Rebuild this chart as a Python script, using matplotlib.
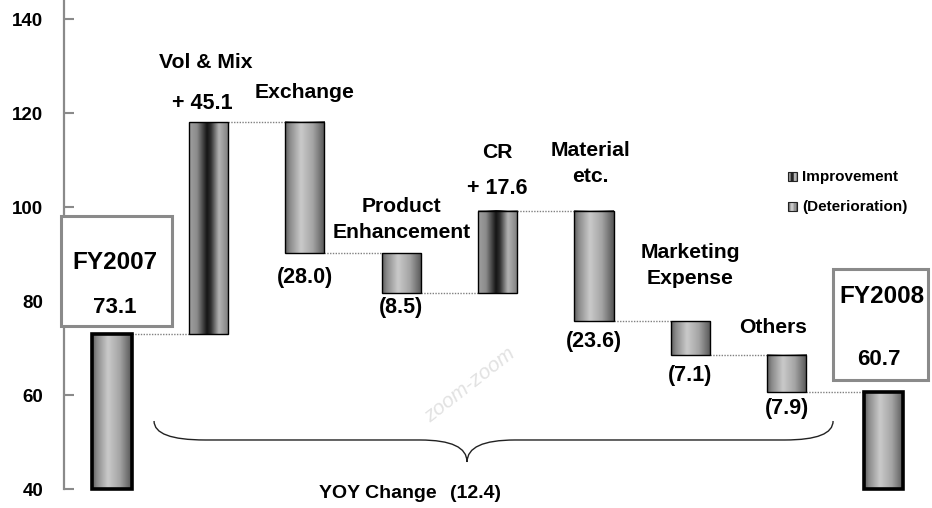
import matplotlib
matplotlib.use("Agg")
import matplotlib.pyplot as plt
import numpy as np
from matplotlib.patches import Rectangle, PathPatch
from matplotlib.path import Path
from matplotlib.transforms import offset_copy
from matplotlib.colors import LinearSegmentedColormap

# ---------------- data ----------------
categories = ["FY2007", "Vol & Mix", "Exchange", "Product\nEnhancement", "CR",
              "Material\netc.", "Marketing\nExpense", "Others", "FY2008"]
changes = [73.1, 45.1, -28.0, -8.5, 17.6, -23.6, -7.1, -7.9, 60.7]
kinds = ["total", "up", "down", "down", "up", "down", "down", "down", "total"]
value_labels = ["73.1", "+ 45.1", "(28.0)", "(8.5)", "+ 17.6", "(23.6)", "(7.1)", "(7.9)", "60.7"]
yoy_label = "YOY Change"
yoy_value = "(12.4)"
legend_labels = ["Improvement", "(Deterioration)"]
y_ticks = [40, 60, 80, 100, 120, 140]
baseline = 40

# ---------------- style / layout ----------------
FONT = "Liberation Sans"
plt.rcParams["font.family"] = [FONT, "DejaVu Sans"]
plt.rcParams["font.weight"] = "bold"

W, H, DPI = 932, 508, 100
fig = plt.figure(figsize=(W / DPI, H / DPI), dpi=DPI)
ax = fig.add_axes([64 / W, 0, 1 - 64 / W, 1])
XLIM = (-0.498, 8.506)
YLIM = (36.02, 144.1)

bar_w = 0.405
cm_up = LinearSegmentedColormap.from_list(
    "up", [(0, "#a0a0a0"), (0.2, "#8c8c8c"), (0.45, "#141414"), (0.55, "#303030"),
           (0.75, "#b4b4b4"), (1.0, "#7c7c7c")])
cm_down = LinearSegmentedColormap.from_list(
    "down", [(0, "#5c5c5c"), (0.12, "#8a8a8a"), (0.4, "#cacaca"), (0.7, "#a4a4a4"),
             (1.0, "#555555")])

# compute waterfall spans
bottoms, tops, levels = [], [], []
level = 0.0
for v, k in zip(changes, kinds):
    if k == "total":
        b, t = baseline, v
        level = v
    elif k == "up":
        b, t = level, level + v
        level = t
    else:
        b, t = level + v, level
        level = b
    bottoms.append(b)
    tops.append(t)
    levels.append(level)

x = np.arange(len(categories))
grad = np.linspace(0, 1, 256)[None, :]
for i in range(len(categories)):
    x0, x1 = x[i] - bar_w / 2, x[i] + bar_w / 2
    cmap = cm_up if kinds[i] == "up" else cm_down
    ax.imshow(grad, extent=[x0, x1, bottoms[i], tops[i]], aspect="auto",
              cmap=cmap, interpolation="bicubic", zorder=2)
    lw = 2.6 if kinds[i] == "total" else 1.0
    ax.add_patch(Rectangle((x0, bottoms[i]), bar_w, tops[i] - bottoms[i],
                           fill=False, edgecolor="black", lw=lw, zorder=3))

# dotted connectors
for i in range(len(categories) - 1):
    ax.plot([x[i] + bar_w / 2, x[i + 1] - bar_w / 2], [levels[i], levels[i]],
            color="#808080", lw=1.0, ls=(0, (1, 1)), zorder=1)

# labels: offsets in pixels (dx, dy from bar top for name; dy from end for value)
name_off = [None, (-3, 59), (0, 29), (0, 34), (0, 58), (-4, 47), (0, 56), (-14, 27), None]
val_off = [None, (-6, 18), (0, -24), (0, -14), (0, 22), (0, -20), (0, -21), (0, -17), None]
NAME_FS = 15.2
VAL_FS = 15.5
for i in range(len(categories)):
    if kinds[i] == "total":
        continue
    dx, dy = name_off[i]
    tr = offset_copy(ax.transData, fig=fig, x=dx, y=dy, units="dots")
    ax.text(x[i], tops[i], categories[i], transform=tr, ha="center", va="center",
            fontsize=NAME_FS, fontweight="bold", linespacing=1.5, zorder=5)
    dx, dy = val_off[i]
    yref = tops[i] if kinds[i] == "up" else bottoms[i]
    tr = offset_copy(ax.transData, fig=fig, x=dx, y=dy, units="dots")
    ax.text(x[i], yref, value_labels[i], transform=tr, ha="center", va="center",
            fontsize=VAL_FS, fontweight="bold", zorder=5)

# total boxes
ax.add_patch(Rectangle((-0.529, 74.74), 1.151, 23.41, fill=True, facecolor="white",
                       edgecolor="#8a8a8a", lw=2.2, zorder=4, clip_on=False))
ax.text(0.03, 88.17, categories[0], ha="center", va="center", fontsize=17.5,
        fontweight="bold", zorder=5)
ax.text(0.03, 78.6, value_labels[0], ha="center", va="center", fontsize=16,
        fontweight="bold", zorder=5)
ax.add_patch(Rectangle((7.475, 63.3), 0.99, 23.6, fill=True, facecolor="white",
                       edgecolor="#8a8a8a", lw=2.2, zorder=4, clip_on=False))
ax.text(7.99, 80.96, categories[8], ha="center", va="center", fontsize=17.5,
        fontweight="bold", zorder=5)
ax.text(7.96, 67.55, value_labels[8], ha="center", va="center", fontsize=16,
        fontweight="bold", zorder=5)

# brace
yh, ye, yt = 50.49, 54.53, 45.81
verts = [(0.436, ye), (0.436, yh), (0.965, yh),
         (3.195, yh),
         (3.683, yh), (3.683, yt),
         (3.683, yh), (4.18, yh),
         (6.98, yh),
         (7.48, yh), (7.48, ye)]
codes = [Path.MOVETO, Path.CURVE3, Path.CURVE3,
         Path.LINETO,
         Path.CURVE3, Path.CURVE3,
         Path.CURVE3, Path.CURVE3,
         Path.LINETO,
         Path.CURVE3, Path.CURVE3]
ax.add_patch(PathPatch(Path(verts, codes), fill=False, edgecolor="#222222", lw=1.0, zorder=3))
ax.text(2.76, 39.2, yoy_label, ha="center", va="center", fontsize=14, fontweight="bold",
        zorder=5, clip_on=False)
ax.text(3.77, 39.2, yoy_value, ha="center", va="center", fontsize=14, fontweight="bold",
        zorder=5, clip_on=False)

# watermark
fig.text(470 / W, 1 - 385 / H, "zoom-zoom", rotation=38, color="#e2e2e2",
         fontsize=15, style="italic", fontweight="normal", ha="center", va="center",
         zorder=0)

# legend (figure pixel coords)
def strip_square(x0, y0, size, cmap, n=6):
    for k in range(n):
        fig.patches.append(Rectangle(((x0 + k * size / n) / W, 1 - (y0 + size) / H),
                                     size / n / W * 1.05, size / H,
                                     transform=fig.transFigure, facecolor=cmap((k + 0.5) / n),
                                     edgecolor="none", lw=0))
    fig.patches.append(Rectangle((x0 / W, 1 - (y0 + size) / H), size / W, size / H,
                                 transform=fig.transFigure, fill=False,
                                 edgecolor="#222222", lw=0.8))

strip_square(788, 172, 9, cm_up)
strip_square(788, 202, 9, cm_down)
fig.text(802 / W, 1 - 177 / H, legend_labels[0], fontsize=11, fontweight="bold",
         ha="left", va="center")
fig.text(802 / W, 1 - 207 / H, legend_labels[1], fontsize=11, fontweight="bold",
         ha="left", va="center")

# axes styling
ax.set_xlim(*XLIM)
ax.set_ylim(*YLIM)
for s in ["top", "right", "bottom"]:
    ax.spines[s].set_visible(False)
ax.spines["left"].set_color("#8a8a8a")
ax.spines["left"].set_linewidth(1.6)
ax.spines["left"].set_bounds(40, YLIM[1])
ax.set_xticks([])
ax.set_yticks(y_ticks)
ax.set_yticklabels([str(t) for t in y_ticks])
ax.tick_params(axis="y", direction="in", length=7, width=1.5, color="#8a8a8a",
               labelsize=13.5, pad=15)
for lab in ax.get_yticklabels():
    lab.set_fontweight("bold")
ax.patch.set_alpha(0)

fig.savefig("out.png", dpi=DPI)
